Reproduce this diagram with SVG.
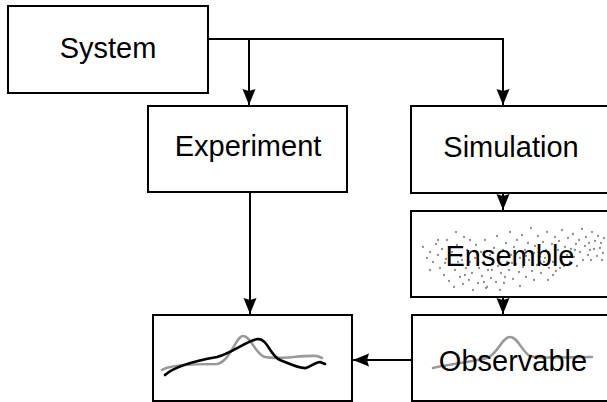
<svg xmlns="http://www.w3.org/2000/svg" width="607" height="402" viewBox="0 0 607 402">
<style>
.box{fill:#fff;stroke:#000;stroke-width:2}
.lbl{font-family:"Liberation Sans","DejaVu Sans",sans-serif;font-size:29px;fill:#000;text-anchor:middle}
.wire{fill:none;stroke:#000;stroke-width:2}
.dots{fill:none;stroke:#8f8f8f;stroke-width:2.3;stroke-linecap:round}
.grey{fill:none;stroke:#999;stroke-width:2.6;stroke-linejoin:round;stroke-linecap:round}
.blk{fill:none;stroke:#000;stroke-width:2.6;stroke-linejoin:round;stroke-linecap:round}
</style>
<defs>
<marker id="ah" markerUnits="userSpaceOnUse" markerWidth="18" markerHeight="14" viewBox="-17 -7 18 14" refX="0" refY="0" orient="auto">
<path d="M0,0 L-16,-6.5 L-14,0 L-16,6.5 Z" fill="#000"/>
</marker>
</defs>
<g id="connectors">
<path class="wire" d="M208,39 H503 V105" marker-end="url(#ah)"/>
<path class="wire" d="M249,39 V105" marker-end="url(#ah)"/>
<path class="wire" d="M503,193 V210" marker-end="url(#ah)"/>
<path class="wire" d="M503,297 V314" marker-end="url(#ah)"/>
<path class="wire" d="M250,192 V314" marker-end="url(#ah)"/>
<path class="wire" d="M412,360 H353" marker-end="url(#ah)"/>
</g>
<g id="system">
<rect class="box" x="8" y="6" width="200" height="87"/>
<text class="lbl" x="108" y="58">System</text>
</g>
<g id="experiment">
<rect class="box" x="148" y="106" width="199" height="86"/>
<text class="lbl" x="248" y="156">Experiment</text>
</g>
<g id="simulation">
<rect class="box" x="411" y="106" width="197" height="87"/>
<text class="lbl" x="511" y="157">Simulation</text>
</g>
<g id="ensemble">
<rect class="box" x="411" y="211" width="197" height="86"/>
<path class="dots" d="M423 247h0M427 258h0M430 252h0M433 262h0M436 244h0M438 255h0M440 268h0M442 249h0M444 275h0M446 259h0M447 240h0M449 281h0M451 265h0M452 252h0M454 287h0M455 270h0M457 245h0M458 262h0M460 277h0M461 256h0M463 284h0M464 237h0M466 268h0M467 250h0M469 280h0M470 262h0M472 273h0M473 290h0M475 258h0M476 245h0M478 283h0M479 268h0M481 252h0M482 276h0M484 262h0M485 240h0M487 287h0M488 270h0M490 255h0M491 278h0M493 264h0M494 248h0M496 282h0M497 236h0M498 266h0M500 258h0M501 273h0M503 250h0M504 283h0M506 243h0M507 262h0M509 270h0M510 232h0M511 255h0M513 279h0M514 247h0M516 264h0M517 240h0M519 272h0M520 258h0M522 235h0M523 267h0M525 250h0M526 277h0M528 243h0M529 260h0M531 228h0M532 271h0M534 253h0M535 246h0M537 265h0M538 236h0M540 257h0M541 273h0M543 242h0M544 262h0M546 250h0M547 232h0M549 268h0M550 255h0M552 244h0M553 262h0M555 237h0M556 271h0M558 250h0M559 241h0M561 260h0M562 230h0M564 266h0M565 247h0M567 255h0M568 238h0M570 262h0M571 249h0M573 234h0M574 257h0M576 244h0M577 266h0M579 240h0M580 252h0M582 229h0M583 260h0M585 246h0M586 237h0M588 255h0M589 243h0M591 260h0M592 232h0M594 249h0M595 241h0M597 256h0M598 236h0M600 248h0M601 243h0M603 253h0M604 238h0M456 232h0M470 240h0M486 288h0M500 290h0M520 286h0M548 280h0M430 270h0M438 240h0M465 275h0M478 256h0M492 270h0M512 263h0M526 256h0M545 258h0M560 268h0M575 250h0M590 250h0M602 260h0M445 263h0M462 260h0M484 282h0M505 277h0M534 280h0M553 275h0"/>
<text class="lbl" x="510" y="266">Ensemble</text>
</g>
<g id="observable">
<rect class="box" x="412" y="315" width="196" height="86"/>
<path class="grey" d="M433,368 C445,365 470,362 487,358 C497,355 502,337 510,337 C518,337 522,352 530,356 C540,359 565,357 592,357"/>
<text class="lbl" x="513" y="371">Observable</text>
</g>
<g id="plot">
<rect class="box" x="153" y="315" width="199" height="86"/>
<path class="grey" d="M162,370 C170,364 200,364 217,364 C230,362 236,336 243,336 C251,336 255,354 265,357 C280,360 300,355 317,356 L322,358"/>
<path class="blk" d="M165,375 C175,366 200,360 217,357 C232,353 248,340 258,339 C268,339 270,356 280,360 C290,364 300,369 306,368 C312,366 316,362 320,362 L325,364"/>
</g>
</svg>
